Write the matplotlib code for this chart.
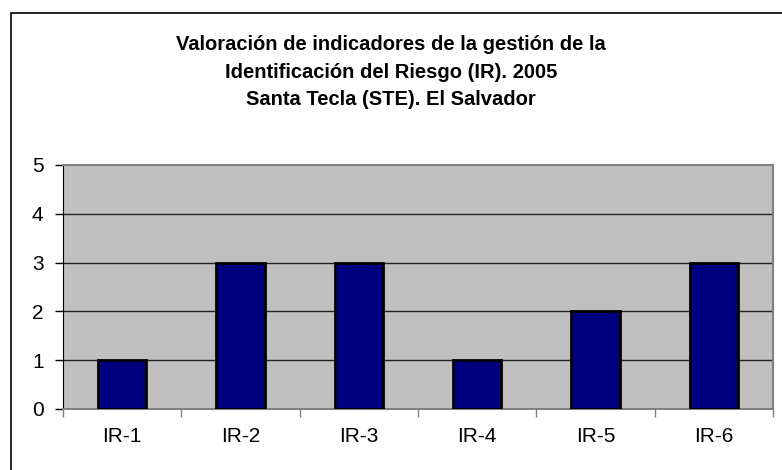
import matplotlib.pyplot as plt
import matplotlib.patches as mpatches
import matplotlib
matplotlib.rcParams['font.family'] = ['Liberation Sans', 'DejaVu Sans']

categories = ['IR-1', 'IR-2', 'IR-3', 'IR-4', 'IR-5', 'IR-6']
values = [1, 3, 3, 1, 2, 3]
title = ('Valoración de indicadores de la gestión de la\n'
         'Identificación del Riesgo (IR). 2005\n'
         'Santa Tecla (STE). El Salvador')

W, H = 782, 470
fig = plt.figure(figsize=(W / 100, H / 100), dpi=100)

# outer chart frame (runs off the right and bottom edges)
frame = mpatches.Rectangle((11 / W, -0.1), 1.2, 1.1 - 13 / H, transform=fig.transFigure,
                           fill=False, edgecolor='black', linewidth=1.2)
fig.patches.append(frame)

ax = fig.add_axes([63 / W, 1 - 409 / H, (773 - 63) / W, (409 - 165) / H])
ax.set_facecolor('#c0c0c0')

x = list(range(len(categories)))
ax.bar(x, values, width=0.41, color='#000080', edgecolor='black', linewidth=2, zorder=3)

ax.set_xlim(-0.5, len(categories) - 0.5)
ax.set_ylim(0, 5)
ax.set_yticks(range(6))
for yv in range(1, 5):
    ax.axhline(yv, color='#222222', linewidth=1, zorder=1)

ax.set_xticks(x)
ax.set_xticklabels(categories, fontsize=15)
ax.tick_params(axis='x', length=0, pad=13)
# category boundary ticks
ax.set_xticks([i - 0.5 for i in range(len(categories) + 1)], minor=True)
ax.tick_params(axis='x', which='minor', length=6, color='#808080', width=1)
ax.tick_params(axis='y', length=6, width=1, labelsize=15, pad=8, direction='out')

for s in ['top', 'right']:
    ax.spines[s].set_color('#808080')
    ax.spines[s].set_linewidth(1.5)
ax.spines['left'].set_color('black')
ax.spines['bottom'].set_color('#808080')
ax.spines['bottom'].set_linewidth(1.5)

fig.text(0.5, 1 - 72 / H, title, ha='center', va='center', fontsize=14.5,
         fontweight='bold', linespacing=1.55)

fig.savefig('out.png', dpi=100)
